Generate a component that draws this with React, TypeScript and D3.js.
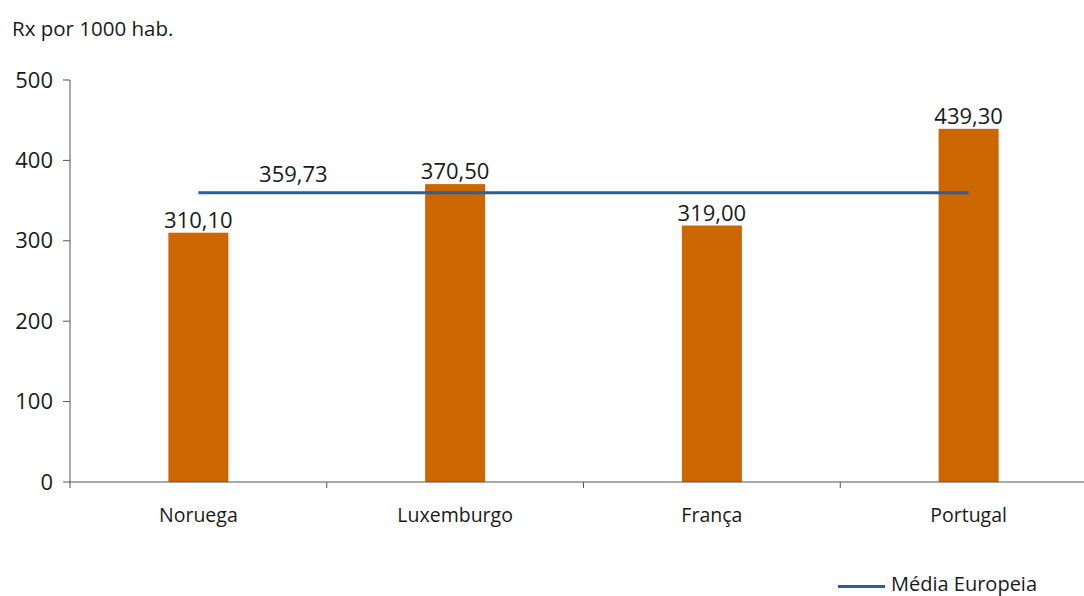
import React from "react";
import * as d3 from "d3";

const categories = ["Noruega", "Luxemburgo", "França", "Portugal"];
const values = [310.1, 370.5, 319.0, 439.3];
const valueLabels = ["310,10", "370,50", "319,00", "439,30"];
const average = 359.73;
const averageLabel = "359,73";
const yTicks = [0, 100, 200, 300, 400, 500];
const yTitle = "Rx por 1000 hab.";
const legendLabel = "Média Europeia";

const W = 1084;
const H = 596;
const FONT = "'Open Sans', 'Noto Sans', sans-serif";

export default function App() {
  const x = d3.scaleBand<string>().domain(categories).range([70, 1097]).paddingInner(0).paddingOuter(0);
  const y = d3.scaleLinear().domain([0, 500]).range([482, 80]);
  const bw = 60;
  const bandW = x.bandwidth();
  const c0 = (x(categories[0]) as number) + bandW / 2;
  const cN = (x(categories[categories.length - 1]) as number) + bandW / 2;
  const lineY = y(average);
  const bandEdges = categories.map((c) => x(c) as number).concat([x.range()[1]]);

  return (
    <svg width={W} height={H} style={{ position: "absolute", left: 0, top: 0, background: "#fff" }}>
      <text x={12} y={36} fontFamily={FONT} fontSize={20.5} fill="#1a1a1a">{yTitle}</text>
      {/* y axis */}
      <line x1={70} x2={70} y1={y(500)} y2={y(0)} stroke="#555" strokeWidth={1} />
      {yTicks.map((t) => (
        <g key={t}>
          <line x1={63} x2={70} y1={y(t)} y2={y(t)} stroke="#555" strokeWidth={1} />
          <text x={53} y={y(t) + 7.5} textAnchor="end" fontFamily={FONT} fontSize={22} fill="#1a1a1a">{t}</text>
        </g>
      ))}
      {/* bars */}
      {categories.map((c, i) => {
        const cx = (x(c) as number) + bandW / 2;
        return (
          <g key={c}>
            <rect x={cx - bw / 2} y={y(values[i])} width={bw} height={y(0) - y(values[i])} fill="#CC6600" />
            <text x={cx} y={y(values[i]) - 5} textAnchor="middle" fontFamily={FONT} fontSize={22} fill="#1a1a1a">{valueLabels[i]}</text>
            <text x={cx} y={522} textAnchor="middle" fontFamily={FONT} fontSize={19.5} fill="#1a1a1a">{c}</text>
          </g>
        );
      })}
      {/* x axis */}
      <line x1={70} x2={x.range()[1]} y1={y(0)} y2={y(0)} stroke="#555" strokeWidth={1} />
      {bandEdges.map((e, i) => (
        <line key={i} x1={e} x2={e} y1={y(0)} y2={y(0) + 6} stroke="#555" strokeWidth={1} />
      ))}
      {/* average line */}
      <line x1={c0} x2={cN} y1={lineY} y2={lineY} stroke="#2E5E99" strokeWidth={3} />
      <text x={c0 + bandW * 0.37} y={lineY - 11} textAnchor="middle" fontFamily={FONT} fontSize={22} fill="#1a1a1a">{averageLabel}</text>
      {/* legend */}
      <line x1={838} x2={885} y1={586.5} y2={586.5} stroke="#2E5E99" strokeWidth={3} />
      <text x={891} y={591} fontFamily={FONT} fontSize={20} fill="#1a1a1a">{legendLabel}</text>
    </svg>
  );
}
